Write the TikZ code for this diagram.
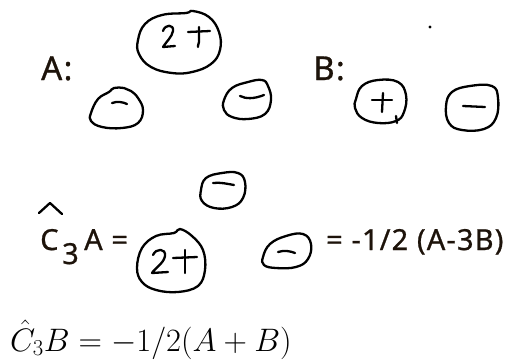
\RequirePackage{fix-cm}
\documentclass[tikz,border=0pt]{standalone}
\usepackage{fontspec}
\newfontfamily\handsans{Noto Sans}[LetterSpace=4,FakeBold=0.8]
\begin{document}
\begin{tikzpicture}[x=1pt,y=-1pt,
  blob/.style={draw=black, line width=2.3pt, line join=round},
  pen/.style={draw=black, line width=2.3pt, line cap=round, line join=round},
  txt/.style={font=\handsans\fontsize{29}{32}\selectfont, text=black!85!brown, inner sep=0pt, anchor=base west},
  bigtxt/.style={txt, font=\handsans\fontsize{33}{38}\selectfont},
  mtxt/.style={font=\fontsize{32.5}{36}\selectfont, inner sep=0pt, anchor=base west}]
\useasboundingbox (0,0) rectangle (509,360);
% labels
\node[bigtxt] (la) at (41,80) {A:};
\node[bigtxt] (lb) at (313,80) {B:};
% A: blobs
\draw[blob] plot[smooth cycle, tension=0.7] coordinates {(138,40) (145,24) (162,15) (186,13) (193,11) (209,17) (219,32) (220,50) (211,64) (192,72) (172,73) (151,67) (139,54)};
\draw[pen] (163,31) .. controls (165,24) and (174,24) .. (173,31) .. controls (172,37) and (166,42) .. (163,47) -- (175,46);
\draw[pen] (188,32) -- (210,31);
\draw[pen] (199,27) -- (199,42) .. controls (199,45) and (197,46) .. (198,47);
\draw[blob] plot[smooth cycle, tension=0.7] coordinates {(91,113) (98,99) (109,92) (114,88) (124,88) (131,91) (138,98) (143,110) (138,123) (122,128) (102,127) (91,121)};
\draw[pen] (112,103) .. controls (117,101) and (123,102) .. (127,104);
\draw[blob] plot[smooth cycle, tension=0.7] coordinates {(224,100) (232,88) (248,82) (262,80) (268,86) (271,100) (265,114) (248,119) (232,117) (224,110)};
\draw[pen] (240,96) .. controls (246,99) and (254,99) .. (264,95);
% B: blobs
\draw[blob] plot[smooth cycle, tension=0.7] coordinates {(356,99) (362,86) (378,80) (398,82) (406,95) (404,112) (396,121) (378,123) (362,118) (355,108)};
\draw[pen] (396,116) -- (397,123);
\draw[pen] (372,100) -- (392,100);
\draw[pen] (383,93) -- (382,112);
\draw[blob] plot[smooth cycle, tension=0.7] coordinates {(446,106) (452,92) (470,86) (492,86) (498,98) (496,118) (484,129) (462,130) (449,123)};
\draw[pen] (463,106) -- (485,107);
\fill (430,27) circle (1.6pt);
% C3 A line
\node[txt] (c) at (40,250) {C};
\node[txt] (three) at (62,264) {3};
\draw[pen] (39,213) -- (50,203) -- (62,214);
\node[txt] (a2) at (84,250) {A =};
\draw[blob] plot[smooth cycle, tension=0.7] coordinates {(201,190) (206,178) (222,173) (238,173) (245,182) (243,198) (232,207) (214,208) (202,201)};
\draw[pen] (213,183) .. controls (220,182) and (228,184) .. (234,185);
\draw[blob] plot[smooth cycle, tension=0.65] coordinates {(137,268) (142,248) (156,236) (174,233) (180,229) (192,236) (203,250) (205,270) (198,286) (178,292) (156,290) (142,282)};
\draw[pen] (153,255) .. controls (156,248) and (166,248) .. (165,256) .. controls (164,263) and (155,268) .. (152,273) -- (168,272);
\draw[pen] (173,258) -- (197,257);
\draw[pen] (185,250) -- (185,273);
\draw[blob] plot[smooth cycle, tension=0.7] coordinates {(263,257) (270,244) (286,236) (303,234) (311,244) (308,259) (296,267) (276,268) (264,265)};
\draw[pen] (278,252) .. controls (284,250) and (290,251) .. (295,253);
\node[txt] (rhs) at (326,250) {= -1/2 (A-3B)};
% bottom equation
\node[mtxt] (eqb) at (10,351) {$\hat{C}_3B=-1/2(A+B)$};
\end{tikzpicture}
\end{document}
